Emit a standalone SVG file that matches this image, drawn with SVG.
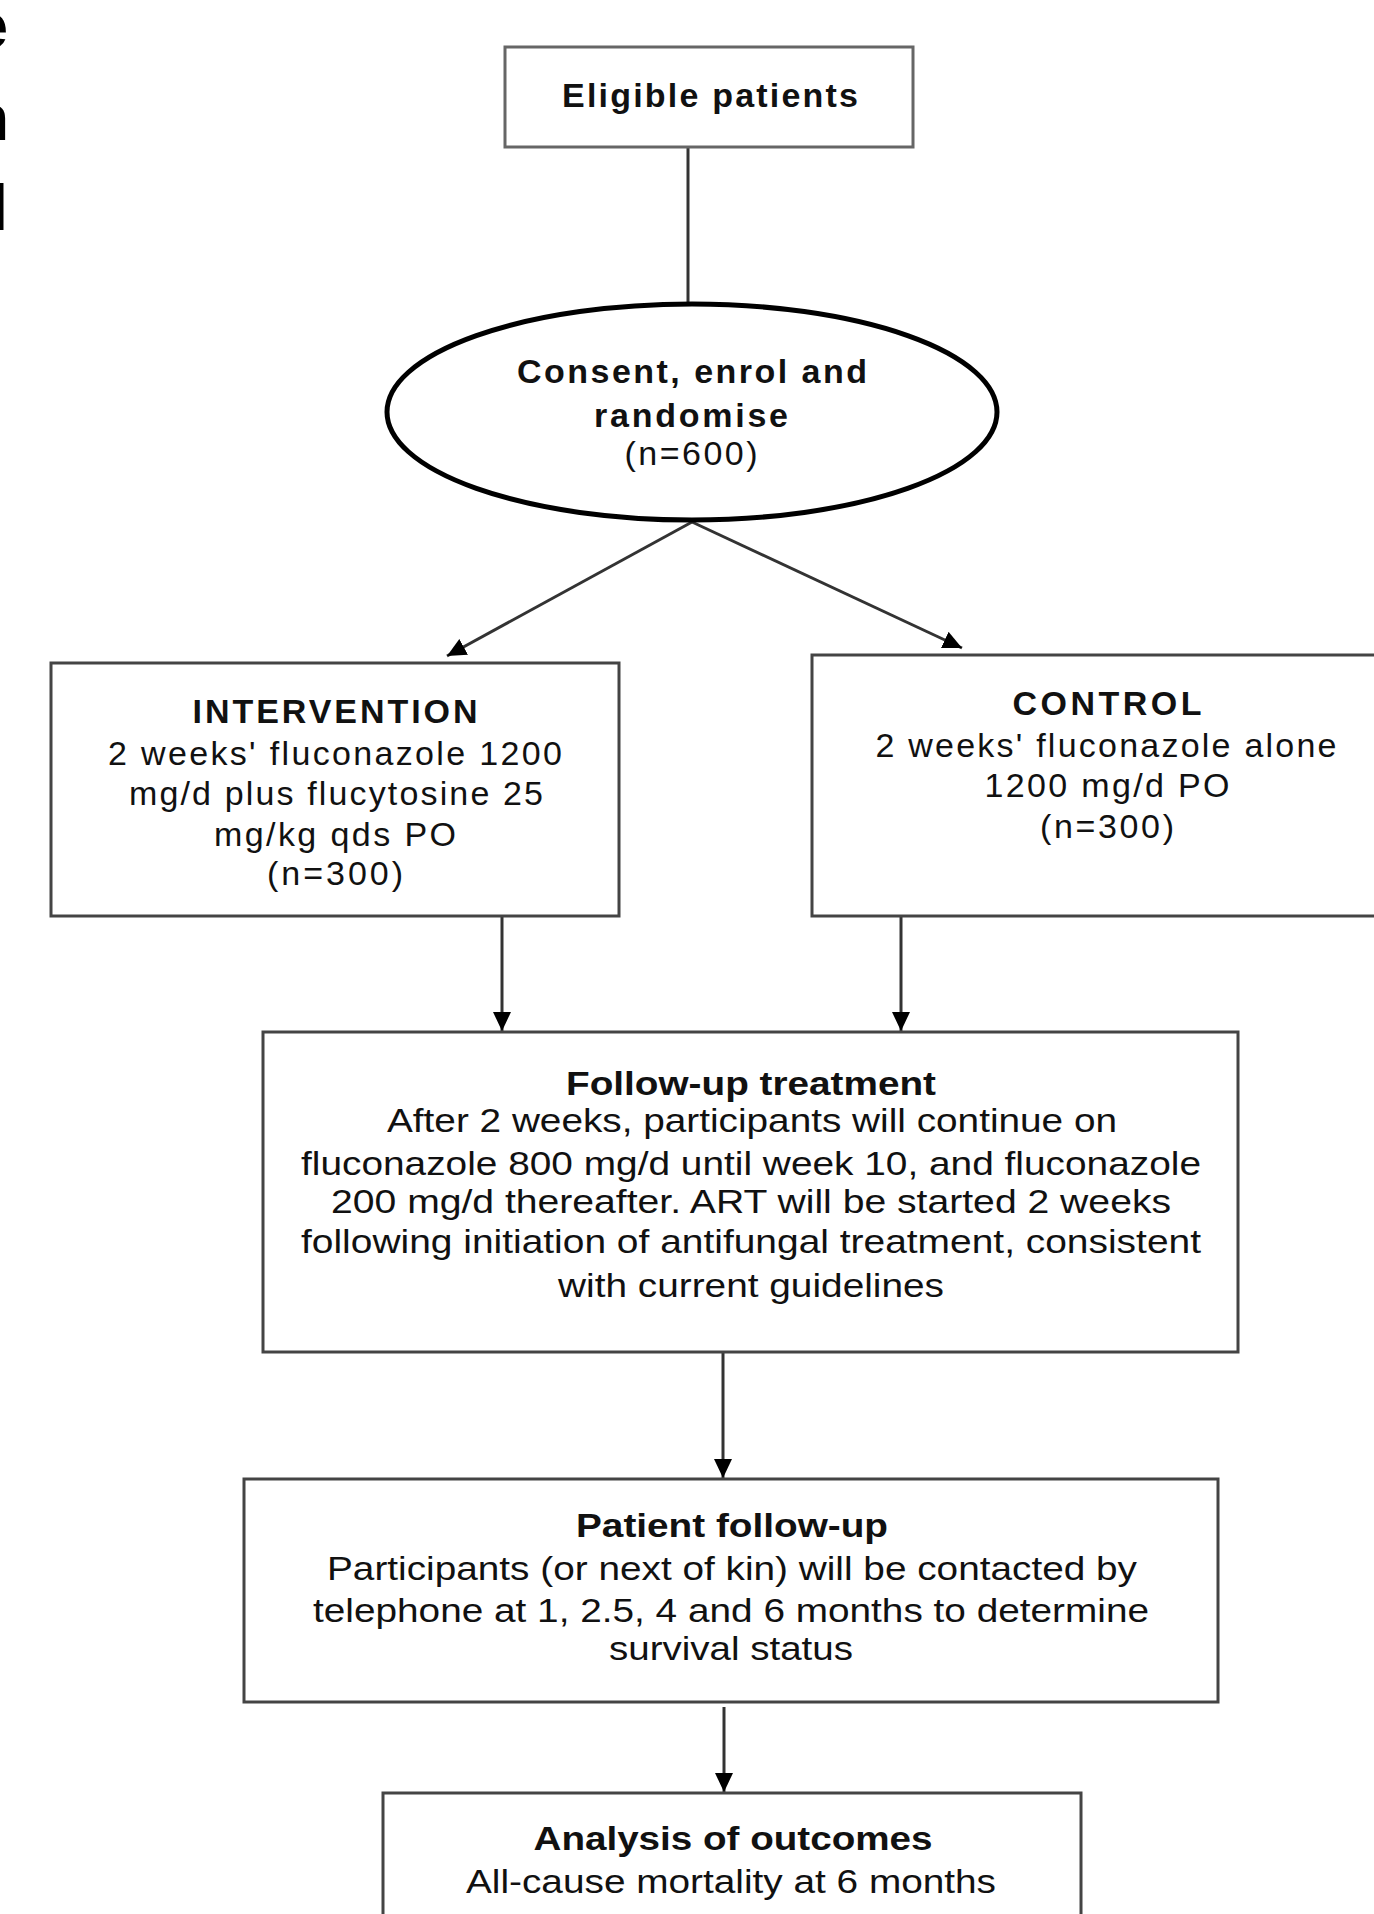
<svg xmlns="http://www.w3.org/2000/svg" width="1374" height="1914" viewBox="0 0 1374 1914">
<style>
.box{fill:#fff;stroke:#444;stroke-width:3}
.t{font-family:"Liberation Sans",Arial,sans-serif;font-size:34px;fill:#111;text-anchor:middle}
.b{font-weight:bold}
.n{font-size:34px}
.edge{fill:none;stroke:#333;stroke-width:3}
.frag{font-family:"Liberation Sans",Arial,sans-serif;font-size:64px;font-weight:bold;fill:#000;text-anchor:end}
</style>
<defs>
<marker id="ah" markerUnits="userSpaceOnUse" markerWidth="20" markerHeight="18" refX="19" refY="9" orient="auto">
<path d="M0,0 L19,9 L0,18 Z" fill="#000"/>
</marker>
</defs>
<rect width="1374" height="1914" fill="#fff"/>
<g id="fragments">
<text class="frag" x="8" y="48">e</text>
<text class="frag" x="9" y="140">n</text>
<text class="frag" x="8" y="230">l</text>
</g>
<g id="connectors">
<line class="edge" x1="688" y1="147" x2="688" y2="304"/>
<line class="edge" x1="692" y1="522" x2="447" y2="656" marker-end="url(#ah)"/>
<line class="edge" x1="692" y1="522" x2="962" y2="648" marker-end="url(#ah)"/>
<line class="edge" x1="502" y1="916" x2="502" y2="1031" marker-end="url(#ah)"/>
<line class="edge" x1="901" y1="916" x2="901" y2="1031" marker-end="url(#ah)"/>
<line class="edge" x1="723" y1="1352" x2="723" y2="1478" marker-end="url(#ah)"/>
<line class="edge" x1="724" y1="1707" x2="724" y2="1792" marker-end="url(#ah)"/>
</g>
<g id="eligible">
<rect class="box" x="505" y="47" width="408" height="100" style="stroke:#666"/>
<text class="t b" x="710" y="107" textLength="296" lengthAdjust="spacing">Eligible patients</text>
</g>
<g id="randomise">
<ellipse cx="692" cy="412" rx="305" ry="108" fill="#fff" stroke="#000" stroke-width="5"/>
<text class="t b" x="692" y="383" textLength="350" lengthAdjust="spacing">Consent, enrol and</text>
<text class="t b" x="691" y="427" textLength="194" lengthAdjust="spacing">randomise</text>
<text class="t" x="691" y="465" textLength="133" lengthAdjust="spacing">(n=600)</text>
</g>
<g id="intervention">
<rect class="box" x="51" y="663" width="568" height="253"/>
<text class="t b" x="335" y="723" textLength="285" lengthAdjust="spacing">INTERVENTION</text>
<text class="t" x="335" y="765" textLength="454" lengthAdjust="spacing">2 weeks' fluconazole 1200</text>
<text class="t" x="336" y="805" textLength="414" lengthAdjust="spacing">mg/d plus flucytosine 25</text>
<text class="t" x="335" y="846" textLength="242" lengthAdjust="spacing">mg/kg qds PO</text>
<text class="t" x="335" y="885" textLength="136" lengthAdjust="spacing">(n=300)</text>
</g>
<g id="control">
<rect class="box" x="812" y="655" width="600" height="261"/>
<text class="t b" x="1107" y="715" textLength="189" lengthAdjust="spacing">CONTROL</text>
<text class="t" x="1106" y="757" textLength="461" lengthAdjust="spacing">2 weeks' fluconazole alone</text>
<text class="t" x="1107" y="797" textLength="245" lengthAdjust="spacing">1200 mg/d PO</text>
<text class="t" x="1107" y="838" textLength="134" lengthAdjust="spacing">(n=300)</text>
</g>
<g id="followup-treatment">
<rect class="box" x="263" y="1032" width="975" height="320"/>
<text class="t n b" x="751" y="1095" textLength="370" lengthAdjust="spacingAndGlyphs">Follow-up treatment</text>
<text class="t n" x="752" y="1132" textLength="730" lengthAdjust="spacingAndGlyphs">After 2 weeks, participants will continue on</text>
<text class="t n" x="751" y="1175" textLength="900" lengthAdjust="spacingAndGlyphs">fluconazole 800 mg/d until week 10, and fluconazole</text>
<text class="t n" x="751" y="1213" textLength="840" lengthAdjust="spacingAndGlyphs">200 mg/d thereafter. ART will be started 2 weeks</text>
<text class="t n" x="751" y="1253" textLength="900" lengthAdjust="spacingAndGlyphs">following initiation of antifungal treatment, consistent</text>
<text class="t n" x="751" y="1297" textLength="386" lengthAdjust="spacingAndGlyphs">with current guidelines</text>
</g>
<g id="patient-followup">
<rect class="box" x="244" y="1479" width="974" height="223"/>
<text class="t n b" x="732" y="1537" textLength="312" lengthAdjust="spacingAndGlyphs">Patient follow-up</text>
<text class="t n" x="732" y="1580" textLength="810" lengthAdjust="spacingAndGlyphs">Participants (or next of kin) will be contacted by</text>
<text class="t n" x="731" y="1622" textLength="836" lengthAdjust="spacingAndGlyphs">telephone at 1, 2.5, 4 and 6 months to determine</text>
<text class="t n" x="731" y="1660" textLength="244" lengthAdjust="spacingAndGlyphs">survival status</text>
</g>
<g id="analysis">
<rect class="box" x="383" y="1793" width="698" height="140"/>
<text class="t n b" x="733" y="1850" textLength="399" lengthAdjust="spacingAndGlyphs">Analysis of outcomes</text>
<text class="t n" x="731" y="1893" textLength="530" lengthAdjust="spacingAndGlyphs">All-cause mortality at 6 months</text>
</g>
</svg>
